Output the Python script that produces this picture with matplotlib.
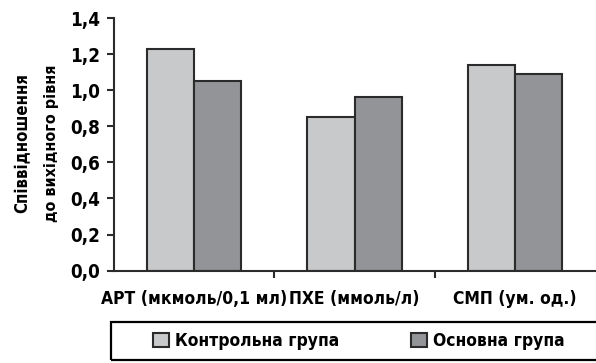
import numpy as np
import matplotlib
matplotlib.use('Agg')
from matplotlib import pyplot as plt
from matplotlib.patches import Rectangle

# Relative values (ratio to baseline level) per indicator
categories = ['АРТ (мкмоль/0,1 мл)', 'ПХЕ (ммоль/л)', 'СМП (ум. од.)']
control_group = [1.23, 0.85, 1.14]
main_group = [1.05, 0.96, 1.09]
series_names = ['Контрольна група', 'Основна група']
y_ticks = [0.0, 0.2, 0.4, 0.6, 0.8, 1.0, 1.2, 1.4]

plt.rcParams['font.family'] = ['DejaVu Sans']
plt.rcParams['font.stretch'] = 'condensed'
plt.rcParams['font.weight'] = 'bold'

fig = plt.figure(figsize=(5.96, 3.63), dpi=100)
ax = fig.add_axes([0.1913, 0.2543, 0.807, 0.6961])

x = np.arange(len(categories))
w = 0.295
edge = '#2b2b2b'
ax.bar(x - w/2, control_group, w, color='#c8c9cb', edgecolor=edge, linewidth=1.5, label=series_names[0])
ax.bar(x + w/2, main_group, w, color='#939498', edgecolor=edge, linewidth=1.5, label=series_names[1])

ax.set_xlim(-0.5, 2.5)
ax.set_ylim(0, 1.4)
ax.set_yticks(y_ticks)
ax.set_yticklabels([('%.1f' % v).replace('.', ',') for v in y_ticks], fontsize=13.5)
ax.set_xticks(x)
ax.set_xticklabels(categories, fontsize=12.5)
ax.tick_params(axis='x', length=0, pad=14)
# category separators on the x axis
ax.set_xticks(x[:-1] + 0.5, minor=True)
ax.tick_params(axis='x', which='minor', length=5, width=1.5, color=edge, direction='out')
ax.tick_params(axis='y', length=5, width=1.5, color=edge, pad=5)

for s in ['top', 'right']:
    ax.spines[s].set_visible(False)
for s in ['left', 'bottom']:
    ax.spines[s].set_linewidth(1.5)
    ax.spines[s].set_color(edge)

fig.text(0.038, 0.605, 'Співвідношення', rotation=90, ha='center', va='center', fontsize=12)
fig.text(0.087, 0.605, 'до вихідного рівня', rotation=90, ha='center', va='center', fontsize=11.5)

# legend frame runs past the right edge of the figure
fig.patches.append(Rectangle((0.186, 0.008), 0.83, 0.105, transform=fig.transFigure,
                             fill=False, edgecolor='black', linewidth=1.6))
fig.legend(loc='center left', bbox_to_anchor=(0.256, 0.06), ncol=2, fontsize=12.5, frameon=False,
           borderaxespad=0, borderpad=0, handlelength=0.95, handleheight=0.9, handletextpad=0.35,
           columnspacing=4.1)

fig.savefig('out.png', dpi=100)
